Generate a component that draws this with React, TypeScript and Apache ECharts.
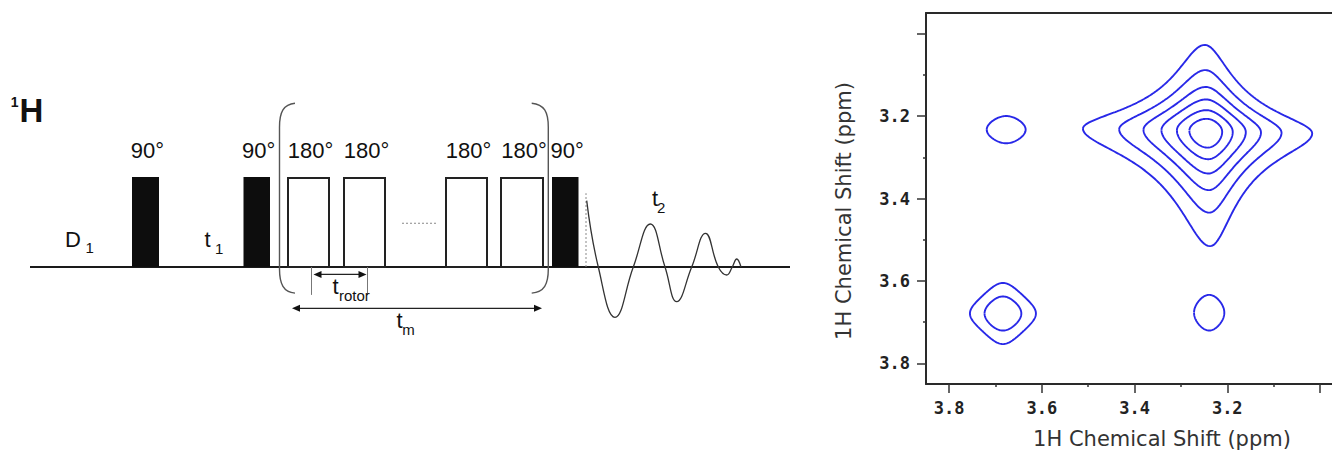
import React, { useEffect, useRef } from 'react';
import * as echarts from 'echarts';

// ---------------- 2D contour plot (ppm) ----------------
const PEAK_X = [3.2434, 3.677, 3.684, 3.239];
const PEAK_Y = [3.2367, 3.233, 3.679, 3.677];
const PEAK_AMP = [1, 0.075, 0.16, 0.075];
const PEAK_W_HIGH_X = [0.0615, 0.0594, 0.048, 0.0462];
const PEAK_W_LOW_X = [0.052, 0.0594, 0.048, 0.0462];
const PEAK_W_LOW_Y = [0.048, 0.0467, 0.05, 0.0612];
const PEAK_W_HIGH_Y = [0.064, 0.0467, 0.05, 0.0612];
const PEAK_TILT = [-0.022, 0, 0, 0];
const CONTOUR_LEVELS = [0.05, 0.095, 0.167, 0.28, 0.47, 0.72];
const X_MIN = 2.974;
const X_MAX = 3.85;
const Y_MIN = 2.95;
const Y_MAX = 3.85;
const MAJOR_TICKS = [3.0, 3.2, 3.4, 3.6, 3.8];
const MINOR_TICKS = [3.1, 3.3, 3.5, 3.7];
const TICK_LABELS = [3.2, 3.4, 3.6, 3.8];
const AXIS_TITLE = '1H Chemical Shift (ppm)';

// ---------------- pulse sequence (time units, amplitude units) ----------------
const PULSE_START = [132, 243.5, 287, 343, 445, 500, 552];
const PULSE_END = [159, 270, 330, 386, 488, 544, 578.5];
const PULSE_FILLED = [true, true, false, false, false, false, true];
const PULSE_LABEL = ['90°', '90°', '180°', '180°', '180°', '180°', '90°'];
const PULSE_HEIGHT = 1;
const PULSE_LABEL_LEVEL = 1.3;
const BASELINE_T = [30, 790];
const BRACKET_OUTER = [279.5, 548.3];
const BRACKET_TIP = [295, 531.7];
const BRACKET_TOP = 1.82;
const BRACKET_BOTTOM = -0.29;
const GAP_DOTS_T = [402, 436];
const GAP_DOTS_LEVEL = 0.486;
const ACQ_MARK_T = 586;
const ACQ_MARK_TOP = 0.82;
const FID_T = [586.7, 598.3, 615, 633.3, 650.3, 665, 676.7, 691.7, 705.5, 718.3, 726.7, 732.3, 736.7, 741];
const FID_AMP = [0.737, 0, -0.559, 0, 0.478, 0, -0.385, 0, 0.374, 0, -0.089, 0, 0.089, 0];
const ARROW_FROM = [311.5, 292];
const ARROW_TO = [367.5, 542];
const ARROW_LEVEL = [-0.083, -0.459];
const ARROW_BARS = [true, false];
const BAR_BOTTOM = -0.31;
const NOTE_MAIN = ['H', 'D', 't', 't', 't', 't'];
const NOTE_SUB = ['1', '1', '1', '2', 'rotor', 'm'];
const NOTE_SUP = [true, false, false, false, false, false];
const NOTE_T = [19.5, 65, 204.5, 652, 332.5, 396.5];
const NOTE_SUB_T = [18.5, 85.4, 215, 657, 339, 402.3];
const NOTE_AMP = [1.744, 0.309, 0.304, 0.763, -0.217, -0.6];

const FONT = '"Liberation Sans", Arial, sans-serif';
const BLUE = '#2828e8';
const FRAME = '#2a2a2a';

function contourLine(k: number, level: number): number[][] {
  const K = PEAK_AMP[k] / level;
  const pts: number[][] = [];
  const N = 400;
  for (let i = 0; i <= N; i++) {
    const th = (2 * Math.PI * i) / N;
    const c = Math.cos(th);
    const s = Math.sin(th);
    const ab = c * c * s * s;
    const r2 = (2 * (K - 1)) / (1 + Math.sqrt(1 + 4 * ab * (K - 1)));
    const r = Math.sqrt(r2);
    const u = r * c;
    const v = r * s;
    const dx = u * (u >= 0 ? PEAK_W_HIGH_X[k] : PEAK_W_LOW_X[k]);
    const dy = v * (v >= 0 ? PEAK_W_HIGH_Y[k] : PEAK_W_LOW_Y[k]);
    pts.push([PEAK_X[k] + dx + PEAK_TILT[k] * dy, PEAK_Y[k] + dy + PEAK_TILT[k] * dx]);
  }
  return pts;
}

function buildOption(): any {
  const contourSeries: any[] = [];
  PEAK_X.forEach((_, k) => {
    CONTOUR_LEVELS.forEach((lvl) => {
      if (lvl < PEAK_AMP[k]) {
        contourSeries.push({
          type: 'line',
          xAxisIndex: 1,
          yAxisIndex: 1,
          data: contourLine(k, lvl),
          symbol: 'none',
          smooth: false,
          clip: true,
          silent: true,
          lineStyle: { color: BLUE, width: 1.9 },
          z: 5,
        });
      }
    });
  });

  const diag = { xAxisIndex: 0, yAxisIndex: 0, silent: true };

  const diagramSeries: any[] = [
    {
      ...diag,
      type: 'line',
      data: BASELINE_T.map((t) => [t, 0]),
      symbol: 'none',
      lineStyle: { color: '#1a1a1a', width: 2 },
      z: 2,
    },
    {
      ...diag,
      type: 'line',
      data: GAP_DOTS_T.map((t) => [t, GAP_DOTS_LEVEL]),
      symbol: 'none',
      lineStyle: { color: '#888', width: 1, type: [2, 2] },
      z: 2,
    },
    {
      ...diag,
      type: 'line',
      data: [[ACQ_MARK_T, 0], [ACQ_MARK_T, ACQ_MARK_TOP]],
      symbol: 'none',
      lineStyle: { color: '#888', width: 1, type: [2, 2] },
      z: 2,
    },
    {
      ...diag,
      type: 'line',
      data: FID_T.map((t, i) => [t, FID_AMP[i]]),
      symbol: 'none',
      smooth: 0.45,
      lineStyle: { color: '#333', width: 1.3 },
      z: 3,
    },
    {
      ...diag,
      type: 'custom',
      data: PULSE_START.map((s, i) => [s, PULSE_END[i]]),
      z: 4,
      renderItem: (params: any, api: any) => {
        const i = params.dataIndex;
        const p0 = api.coord([PULSE_START[i], PULSE_HEIGHT]);
        const p1 = api.coord([PULSE_END[i], 0]);
        const filled = PULSE_FILLED[i];
        const lw = filled ? 0 : 2;
        const lab = api.coord([(PULSE_START[i] + PULSE_END[i]) / 2, PULSE_LABEL_LEVEL]);
        return {
          type: 'group',
          children: [
            {
              type: 'rect',
              shape: {
                x: p0[0] + lw / 2,
                y: p0[1] + lw / 2,
                width: p1[0] - p0[0] - lw,
                height: p1[1] - p0[1] - lw / 2,
              },
              style: filled
                ? { fill: '#0d0d0d' }
                : { fill: '#fff', stroke: '#222', lineWidth: lw },
            },
            {
              type: 'text',
              x: lab[0] + 2,
              y: lab[1],
              style: {
                text: PULSE_LABEL[i],
                fontFamily: FONT,
                fontSize: 22,
                fill: '#111',
                align: 'center',
                verticalAlign: 'middle',
              },
            },
          ],
        };
      },
    },
    {
      ...diag,
      type: 'custom',
      data: BRACKET_TIP.map((t, i) => [t, BRACKET_OUTER[i]]),
      z: 4,
      renderItem: (params: any, api: any) => {
        const i = params.dataIndex;
        const top = api.coord([BRACKET_TIP[i], BRACKET_TOP]);
        const bot = api.coord([BRACKET_TIP[i], BRACKET_BOTTOM]);
        const ox = api.coord([BRACKET_OUTER[i], 0])[0];
        const tx = top[0];
        const d = tx > ox ? 1 : -1;
        const y0 = top[1];
        const y1 = bot[1];
        const path =
          `M ${tx} ${y0} C ${ox + d * 4} ${y0 + 1}, ${ox} ${y0 + 9}, ${ox} ${y0 + 24} ` +
          `L ${ox} ${y1 - 24} C ${ox} ${y1 - 9}, ${ox + d * 4} ${y1 - 1}, ${tx} ${y1}`;
        return {
          type: 'path',
          shape: { pathData: path },
          style: { fill: 'none', stroke: '#555', lineWidth: 1.4 },
        };
      },
    },
    {
      ...diag,
      type: 'custom',
      data: ARROW_FROM.map((t, i) => [t, ARROW_TO[i]]),
      z: 4,
      renderItem: (params: any, api: any) => {
        const i = params.dataIndex;
        const a = api.coord([ARROW_FROM[i], ARROW_LEVEL[i]]);
        const b = api.coord([ARROW_TO[i], ARROW_LEVEL[i]]);
        const y = a[1];
        const children: any[] = [];
        const ax = a[0] + (ARROW_BARS[i] ? 2 : 0);
        const bx = b[0] - (ARROW_BARS[i] ? 1 : 0);
        children.push({
          type: 'line',
          shape: { x1: ax + 4, y1: y, x2: bx - 4, y2: y },
          style: { stroke: '#222', lineWidth: 1.2 },
        });
        children.push({
          type: 'polygon',
          shape: { points: [[ax, y], [ax + 8, y - 3.5], [ax + 8, y + 3.5]] },
          style: { fill: '#111' },
        });
        children.push({
          type: 'polygon',
          shape: { points: [[bx, y], [bx - 8, y - 3.5], [bx - 8, y + 3.5]] },
          style: { fill: '#111' },
        });
        if (ARROW_BARS[i]) {
          const t0 = api.coord([ARROW_FROM[i], 0]);
          const t1 = api.coord([ARROW_FROM[i], BAR_BOTTOM]);
          const u0 = api.coord([ARROW_TO[i], 0]);
          children.push({
            type: 'line',
            shape: { x1: t0[0], y1: t0[1], x2: t1[0], y2: t1[1] },
            style: { stroke: '#777', lineWidth: 1 },
          });
          children.push({
            type: 'line',
            shape: { x1: u0[0], y1: u0[1], x2: u0[0], y2: t1[1] },
            style: { stroke: '#777', lineWidth: 1 },
          });
        }
        return { type: 'group', children };
      },
    },
    {
      ...diag,
      type: 'custom',
      data: NOTE_T.map((t, i) => [t, NOTE_AMP[i]]),
      z: 4,
      renderItem: (params: any, api: any) => {
        const i = params.dataIndex;
        const m = api.coord([NOTE_T[i], NOTE_AMP[i]]);
        const sx = api.coord([NOTE_SUB_T[i], NOTE_AMP[i]])[0];
        const sup = NOTE_SUP[i];
        return {
          type: 'group',
          children: [
            {
              type: 'text',
              x: m[0],
              y: m[1],
              style: {
                text: NOTE_MAIN[i],
                fontFamily: FONT,
                fontSize: sup ? 33 : 22,
                fontWeight: sup ? 'bold' : 'normal',
                fill: '#111',
                align: 'left',
                verticalAlign: 'middle',
              },
            },
            {
              type: 'text',
              x: sx,
              y: m[1] + (sup ? -8 : 8.7),
              style: {
                text: NOTE_SUB[i],
                fontFamily: FONT,
                fontSize: sup ? 14 : 15,
                fontWeight: sup ? 'bold' : 'normal',
                fill: '#111',
                align: sup ? 'right' : 'left',
                verticalAlign: 'middle',
              },
            },
          ],
        };
      },
    },
  ];

  const tickLabel = {
    fontFamily: '"DejaVu Sans Mono", monospace',
    fontSize: 17,
    fontWeight: 'bold',
    color: '#222',
  };
  const frameLine = { show: true, onZero: false, lineStyle: { color: FRAME, width: 2 } };

  const xAxisBase = (extra: any) => ({
    gridIndex: 1,
    type: 'value',
    min: X_MIN,
    max: X_MAX,
    inverse: true,
    splitLine: { show: false },
    ...extra,
  });
  const yAxisBase = (extra: any) => ({
    gridIndex: 1,
    type: 'value',
    min: Y_MIN,
    max: Y_MAX,
    inverse: true,
    splitLine: { show: false },
    ...extra,
  });

  return {
    animation: false,
    backgroundColor: '#fff',
    grid: [
      { left: 0, top: 0, width: 800, height: 452, show: false },
      { left: 926, top: 13, width: 406, height: 371, show: false },
    ],
    xAxis: [
      { gridIndex: 0, type: 'value', min: 0, max: 800, show: false },
      xAxisBase({
        position: 'bottom',
        axisLine: frameLine,
        axisTick: {
          show: true,
          inside: false,
          length: 9,
          customValues: MAJOR_TICKS,
          lineStyle: { color: '#333', width: 1.5 },
        },
        axisLabel: {
          ...tickLabel,
          margin: 15,
          customValues: TICK_LABELS,
          formatter: (v: number) => v.toFixed(1),
        },
      }),
      xAxisBase({
        position: 'bottom',
        axisLine: { show: false },
        axisLabel: { show: false },
        axisTick: {
          show: true,
          inside: false,
          length: 3,
          customValues: MINOR_TICKS,
          lineStyle: { color: '#333', width: 1.5 },
        },
      }),
      xAxisBase({
        position: 'top',
        axisLine: frameLine,
        axisLabel: { show: false },
        axisTick: { show: false },
      }),
    ],
    yAxis: [
      { gridIndex: 0, type: 'value', min: -2.0556, max: 2.9667, show: false },
      yAxisBase({
        position: 'left',
        axisLine: frameLine,
        axisTick: {
          show: true,
          inside: false,
          length: 9,
          customValues: MAJOR_TICKS,
          lineStyle: { color: '#333', width: 1.5 },
        },
        axisLabel: {
          ...tickLabel,
          margin: 16,
          customValues: TICK_LABELS,
          formatter: (v: number) => v.toFixed(1),
        },
      }),
      yAxisBase({
        position: 'left',
        axisLine: { show: false },
        axisLabel: { show: false },
        axisTick: {
          show: true,
          inside: false,
          length: 3,
          customValues: MINOR_TICKS,
          lineStyle: { color: '#333', width: 1.5 },
        },
      }),
    ],
    graphic: [
      {
        type: 'text',
        x: 1162,
        y: 439,
        silent: true,
        style: {
          text: AXIS_TITLE,
          fontFamily: '"DejaVu Sans", sans-serif',
          fontSize: 21,
          fill: '#333',
          align: 'center',
          verticalAlign: 'middle',
        },
      },
      {
        type: 'text',
        x: 844,
        y: 211,
        rotation: Math.PI / 2,
        silent: true,
        style: {
          text: AXIS_TITLE,
          fontFamily: '"DejaVu Sans", sans-serif',
          fontSize: 21,
          fill: '#333',
          align: 'center',
          verticalAlign: 'middle',
        },
      },
    ],
    series: [...diagramSeries, ...contourSeries],
  };
}

export default function App() {
  const ref = useRef<HTMLDivElement | null>(null);
  useEffect(() => {
    document.body.style.margin = '0';
    document.body.style.overflow = 'hidden';
    if (!ref.current) return;
    const chart = echarts.init(ref.current, undefined, { renderer: 'svg' });
    chart.setOption(buildOption());
    return () => {
      chart.dispose();
    };
  }, []);
  return (
    <div
      ref={ref}
      style={{ position: 'absolute', left: 0, top: 0, width: 1332, height: 452, background: '#fff' }}
    />
  );
}
